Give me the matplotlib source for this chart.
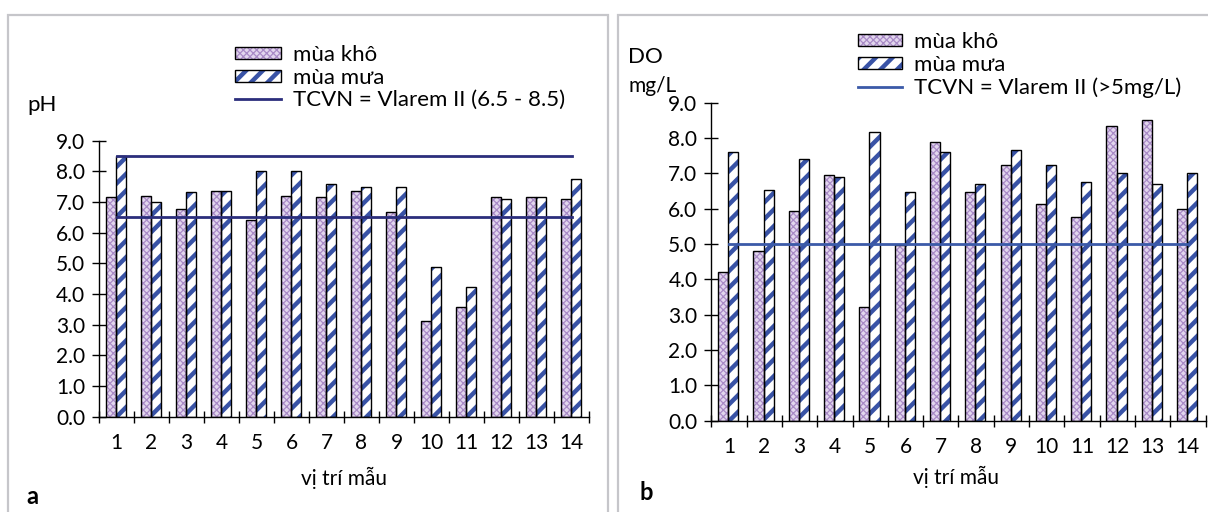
import matplotlib
matplotlib.use("Agg")
import matplotlib.pyplot as plt
from matplotlib.patches import Patch, Rectangle
from matplotlib.lines import Line2D
import numpy as np

plt.rcParams['font.family'] = ['Lato', 'DejaVu Sans']
plt.rcParams['hatch.linewidth'] = 0.8

# ---------------- data ----------------
sites = ["1", "2", "3", "4", "5", "6", "7", "8", "9", "10", "11", "12", "13", "14"]
ph_dry = [7.15, 7.2, 6.77, 7.37, 6.4, 7.2, 7.15, 7.37, 6.67, 3.13, 3.57, 7.15, 7.15, 7.1]
ph_wet = [8.5, 7.0, 7.32, 7.37, 8.02, 8.02, 7.59, 7.48, 7.48, 4.88, 4.22, 7.1, 7.15, 7.75]
ph_limits = [6.5, 8.5]
do_dry = [4.22, 4.81, 5.93, 6.96, 3.23, 4.98, 7.89, 6.46, 7.25, 6.14, 5.76, 8.33, 8.5, 5.98]
do_wet = [7.61, 6.52, 7.4, 6.91, 8.17, 6.46, 7.61, 6.7, 7.67, 7.25, 6.75, 7.02, 6.7, 7.02]
do_limit = 5.0
yticks = [0, 1, 2, 3, 4, 5, 6, 7, 8, 9]
lab_dry = "mùa khô"
lab_wet = "mùa mưa"
lab_ph = "TCVN = Vlarem II (6.5 - 8.5)"
lab_do = "TCVN = Vlarem II (>5mg/L)"
xlabel = "vị trí mẫu"

W, H = 1208, 512
fig = plt.figure(figsize=(W / 100, H / 100), dpi=100)

def fx(px):
    return px / W

def fy(py):
    return 1 - py / H

DRY_HATCH = '#a98bc6'
DRY_FACE = '#e2d6ee'
WET_HATCH = '#3953a6'
WET_HLW = 3.2
DRY_HLW = 0.9
FS = 15

def set_hlw(p, lw):
    if hasattr(p, 'set_hatch_linewidth'):
        p.set_hatch_linewidth(lw)
    elif hasattr(p, '_hatch_linewidth'):
        p._hatch_linewidth = lw

def draw_bars(ax, x, vals, offset, width, face, hcolor, hatch, hlw):
    with plt.rc_context({'hatch.linewidth': hlw}):
        b1 = ax.bar(x + offset, vals, width, align='edge', facecolor=face,
                    edgecolor=hcolor, linewidth=0, hatch=hatch, zorder=2)
    for p in b1:
        set_hlw(p, hlw)
    ax.bar(x + offset, vals, width, align='edge', fill=False,
           edgecolor='black', linewidth=1.0, zorder=3)

def style_axes(ax, n):
    ax.set_xlim(0.5, n + 0.5)
    ax.set_ylim(0, 9)
    for s in ['top', 'right']:
        ax.spines[s].set_visible(False)
    ax.spines['left'].set_linewidth(1.0)
    ax.spines['bottom'].set_linewidth(1.0)
    ax.set_yticks(yticks)
    ax.set_yticklabels([f"{v:.1f}" for v in yticks])
    ax.tick_params(axis='y', direction='inout', length=10, width=1, pad=5, labelsize=FS)
    ax.set_xticks(np.arange(0.5, n + 1, 1.0))
    ax.set_xticklabels([])
    ax.tick_params(axis='x', which='major', direction='inout', length=9, width=1)
    ax.set_xticks(np.arange(1, n + 1), minor=True)
    ax.set_xticklabels(sites, minor=True)
    ax.tick_params(axis='x', which='minor', length=0, pad=12, labelsize=FS)
    ax.patch.set_alpha(0)

bw = 0.285
x = np.arange(1, len(sites) + 1)

# ---------------- panel a ----------------
axa = fig.add_axes([fx(99), fy(416.7), fx(490), 276 / H])
draw_bars(axa, x, ph_dry, -bw - 0.02, bw, DRY_FACE, DRY_HATCH, 'xxxxx', DRY_HLW)
draw_bars(axa, x, ph_wet, -0.02, bw, 'white', WET_HATCH, '//', WET_HLW)
for lim in ph_limits:
    axa.plot([x[0], x[-1]], [lim, lim], color='#2b2e7c', lw=2.0, zorder=4)
style_axes(axa, len(sites))

# ---------------- panel b ----------------
axb = fig.add_axes([fx(711.3), fy(420.7), fx(494.2), 318 / H])
draw_bars(axb, x, do_dry, -bw - 0.02, bw, DRY_FACE, DRY_HATCH, 'xxxxx', DRY_HLW)
draw_bars(axb, x, do_wet, -0.02, bw, 'white', WET_HATCH, '//', WET_HLW)
axb.plot([x[0], x[-1]], [do_limit, do_limit], color='#3b5aa8', lw=2.0, zorder=4)
style_axes(axb, len(sites))

# ---------------- legends ----------------
def make_handles(line_color):
    hd1 = Patch(facecolor=DRY_FACE, edgecolor=DRY_HATCH, hatch='xxxxx', linewidth=0)
    hw1 = Patch(facecolor='white', edgecolor=WET_HATCH, hatch='//', linewidth=0)
    hd2 = Patch(fill=False, edgecolor='black', linewidth=1.0)
    hw2 = Patch(fill=False, edgecolor='black', linewidth=1.0)
    hl = Line2D([], [], color=line_color, lw=2.0)
    return [(hd1, hd2), (hw1, hw2), hl]

def fix_legend_hatch(leg):
    for p in leg.findobj(Rectangle):
        h = p.get_hatch()
        if h == '//':
            set_hlw(p, WET_HLW)
        elif h == 'xxxxx':
            set_hlw(p, DRY_HLW)

fs_leg = 16
em = fs_leg * 100 / 72
leg_a = fig.legend(make_handles('#2b2e7c'), [lab_dry, lab_wet, lab_ph], loc='upper left',
                   bbox_to_anchor=(fx(235), fy(45)), frameon=False, fontsize=fs_leg,
                   borderpad=0, borderaxespad=0, handlelength=46 / em, handleheight=10 / em,
                   handletextpad=12 / em, labelspacing=0.12)
leg_b = fig.legend(make_handles('#3b5aa8'), [lab_dry, lab_wet, lab_do], loc='upper left',
                   bbox_to_anchor=(fx(858), fy(31.5)), frameon=False, fontsize=fs_leg,
                   borderpad=0, borderaxespad=0, handlelength=44 / em, handleheight=10 / em,
                   handletextpad=12 / em, labelspacing=0.14)
fix_legend_hatch(leg_a)
fix_legend_hatch(leg_b)

# ---------------- texts ----------------
fig.text(fx(27), fy(105), "pH", fontsize=16, ha='left', va='center')
fig.text(fx(344), fy(478), xlabel, fontsize=FS, ha='center', va='center')
fig.text(fx(32), fy(497), "a", fontsize=17, fontweight='bold', ha='center', va='center')

fig.text(fx(628), fy(57), "DO", fontsize=16, ha='left', va='center')
fig.text(fx(628), fy(86), "mg/L", fontsize=15, ha='left', va='center')
fig.text(fx(956), fy(477), xlabel, fontsize=FS, ha='center', va='center')
fig.text(fx(646), fy(492), "b", fontsize=17, fontweight='bold', ha='center', va='center')

# ---------------- panel borders ----------------
fig.patches.append(Rectangle((fx(8), fy(530)), fx(600), (530 - 15) / H, transform=fig.transFigure,
                             fill=False, edgecolor='#c6c6ca', linewidth=1.6, zorder=0))
fig.patches.append(Rectangle((fx(618.3), fy(530)), fx(620), (530 - 15) / H, transform=fig.transFigure,
                             fill=False, edgecolor='#c6c6ca', linewidth=1.6, zorder=0))

fig.savefig("out.png", dpi=100)
